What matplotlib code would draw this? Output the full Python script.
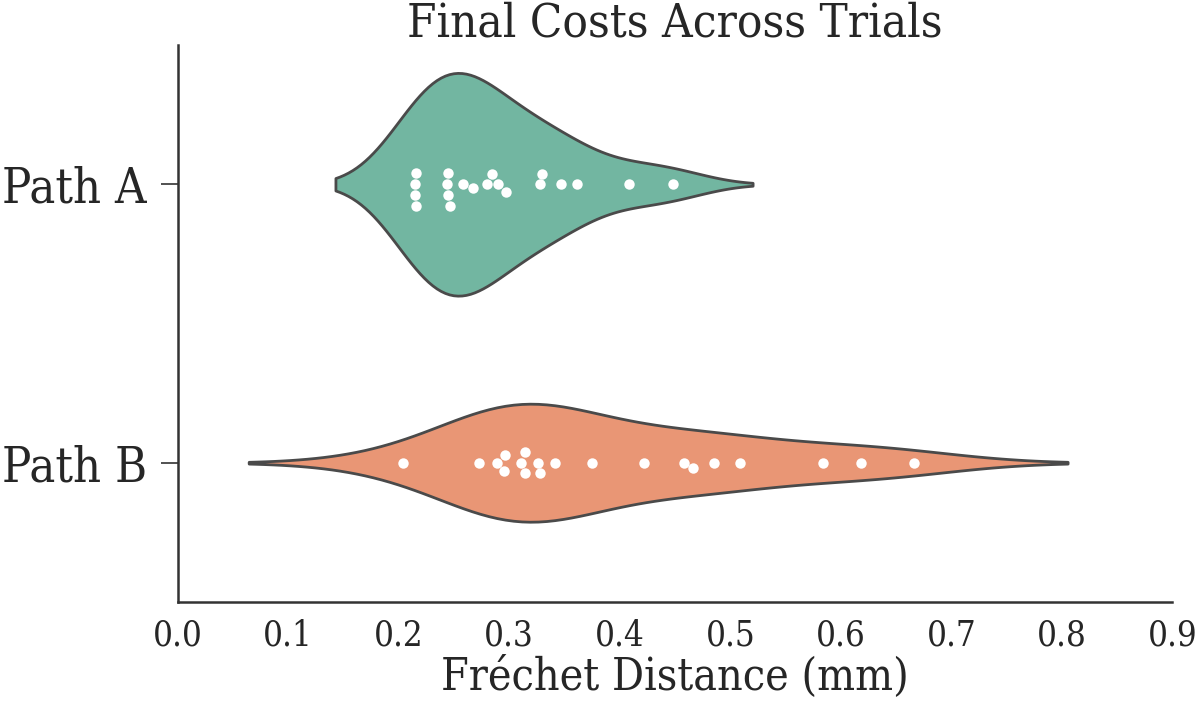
import numpy as np
import pandas as pd
import seaborn as sns
import matplotlib
matplotlib.use('Agg')
import matplotlib.pyplot as plt

# Final Fréchet distances per trial
PATH_A = [0.215, 0.215, 0.216, 0.216,
          0.244, 0.245, 0.245, 0.246,
          0.258, 0.267,
          0.280, 0.284, 0.290, 0.297,
          0.328, 0.330, 0.347, 0.361, 0.408, 0.448]
PATH_B = [0.2035, 0.273,
          0.289, 0.295, 0.296,
          0.311, 0.314, 0.314,
          0.326, 0.328, 0.341, 0.375, 0.422,
          0.458, 0.466, 0.485, 0.509, 0.584, 0.618, 0.666]
GROUPS = ['Path A', 'Path B']

TITLE  = 'Final Costs Across Trials'
XLABEL = 'Fréchet Distance (mm)'
XTICKS = [0.0, 0.1, 0.2, 0.3, 0.4, 0.5, 0.6, 0.7, 0.8, 0.9]

if __name__ == '__main__':

    sns.set_style('white')
    plt.rcParams['font.family'] = ['DejaVu Serif']
    plt.rcParams['font.stretch'] = 'condensed'

    df = pd.DataFrame({
        'value': PATH_A + PATH_B,
        'group': [GROUPS[0]] * len(PATH_A) + [GROUPS[1]] * len(PATH_B),
    })

    fig = plt.figure(figsize=(12, 7.04), dpi=100)
    ax = fig.add_axes([0.148, 0.145, 0.829, 0.791])

    # No hue, so 'area' scaling is shared across both violins; recolour after
    sns.violinplot(data=df, x='value', y='group', order=GROUPS, color='#66c2a5',
                   inner=None, linewidth=2, linecolor='#4a4a4a', ax=ax)
    colors = sns.color_palette('Set2', len(GROUPS))
    for coll, c in zip(ax.collections, colors):
        coll.set_facecolor(sns.desaturate(c, 0.75))

    sns.swarmplot(data=df, x='value', y='group', order=GROUPS, color='white',
                  size=7.5, ax=ax)

    ax.set_title(TITLE, fontsize=34, pad=6)
    ax.set_xlabel(XLABEL, fontsize=32, labelpad=2)
    ax.set_ylabel('')
    ax.set_xlim(0, 0.9)
    ax.set_ylim(1.5, -0.5)
    ax.set_xticks(XTICKS)
    ax.set_xticklabels(['%.1f' % t for t in XTICKS])

    ax.tick_params(axis='x', direction='in', length=12, width=1.2, labelsize=25, pad=12, color='#333333')
    ax.tick_params(axis='y', direction='out', length=12, width=1.2, labelsize=35, pad=10, color='#333333', left=True)

    for side in ('top', 'right'):
        ax.spines[side].set_visible(False)
    for side in ('left', 'bottom'):
        ax.spines[side].set_color('#333333')
        ax.spines[side].set_linewidth(1.8)

    fig.savefig('out.png', dpi=100)
